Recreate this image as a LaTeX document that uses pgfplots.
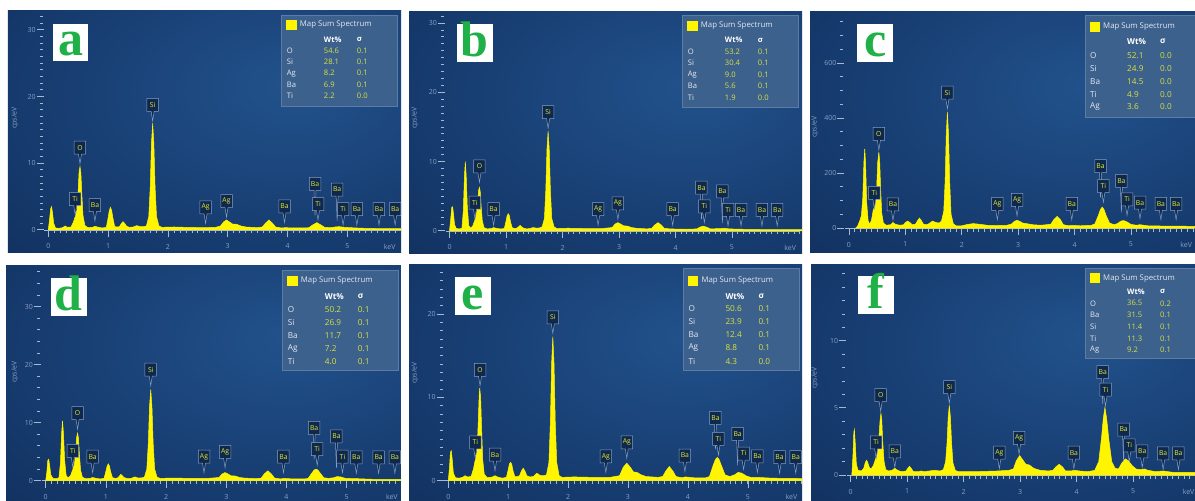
\documentclass[border=0pt]{standalone}
\usepackage{pgfplots}
\pgfplotsset{compat=1.18}
\usepackage{fontspec}
\setmainfont{Open Sans}
\newfontfamily\letterfont{Liberation Serif}
\usetikzlibrary{shapes.callouts}

\definecolor{bgin}{RGB}{34,82,140}
\definecolor{bgmid}{RGB}{23,61,113}
\definecolor{bgout}{RGB}{13,39,80}
\definecolor{specyellow}{RGB}{255,245,0}
\definecolor{axc}{RGB}{165,185,212}
\definecolor{tickc}{RGB}{135,160,196}
\definecolor{labbg}{RGB}{14,40,78}
\definecolor{labbd}{RGB}{135,160,195}
\definecolor{labtx}{RGB}{230,236,50}
\definecolor{legbg}{RGB}{61,97,141}
\definecolor{legbd}{RGB}{92,124,166}
\definecolor{legname}{RGB}{226,233,243}
\definecolor{legval}{RGB}{216,226,62}
\definecolor{lettergreen}{RGB}{32,176,72}

\pgfdeclareradialshading{panelbg}{\pgfpoint{12bp}{10bp}}{color(0bp)=(bgin); color(28bp)=(bgmid); color(62bp)=(bgout); color(100bp)=(bgout)}

\tikzset{
  tickl/.style={text=tickc, font=\fontsize{7}{8}\selectfont, inner sep=0pt},
  peak/.style={rectangle callout, anchor=pointer, fill=labbg, draw=labbd, line width=0.5pt,
    font=\color{labtx}\fontsize{6.8}{7}\selectfont, inner xsep=1.6pt, inner ysep=0pt,
    minimum height=13pt, minimum width=11.5pt},
}
\pgfplotsset{
  eds/.style={scale only axis, anchor=south west, axis line style={draw=none},
    xtick=\empty, ytick=\empty, clip=true,
    axis background/.style={shade, shading=panelbg}},
  spec/.style={fill=specyellow, draw=specyellow, line width=0.5pt},
  shortlab/.style={only marks, mark=none, point meta=explicit symbolic, nodes near coords,
    nodes near coords style={peak, callout pointer width=3pt, callout relative pointer={(0pt,-9.5pt)}}},
  longlab/.style={only marks, mark=none, point meta=explicit symbolic, nodes near coords,
    nodes near coords style={peak, callout pointer width=2pt, callout relative pointer={(0pt,-25pt)}}},
}

% x axis: line at 0, minor ticks every 0.1 keV, labels 0..5, "keV" at #1
\newcommand{\xdecor}[2]{%
  \draw[axc, line width=0.7pt] ([xshift=-4pt]axis cs:0,0) -- (axis cs:#2,0);
  \pgfplotsinvokeforeach{0.1,0.2,...,#2}{\draw[axc, line width=0.6pt] (axis cs:##1,0) -- ++(0pt,-3.5pt);}
  \pgfplotsinvokeforeach{0,...,5}{\draw[axc, line width=0.6pt] (axis cs:##1,0) -- ++(0pt,-7pt);
    \node[tickl] at ([yshift=-16.5pt]axis cs:##1,0) {##1};}
  \node[tickl] at ([yshift=-16.5pt]axis cs:#1,0) {keV};
}
% y axis: column of dashes left of x=0
\newcommand{\ydecor}[2]{%
  \pgfplotsinvokeforeach{#1}{\draw[axc, line width=1pt] ([xshift=-8.5pt]axis cs:0,##1) -- ([xshift=-5.5pt]axis cs:0,##1);}
  \pgfplotsinvokeforeach{#2}{\draw[axc, line width=1pt] ([xshift=-11.5pt]axis cs:0,##1) -- ([xshift=-4.5pt]axis cs:0,##1);
    \node[tickl, anchor=east] at ([xshift=-12.5pt]axis cs:0,##1) {##1};}
}
% result box: left, top, height, map dy, header dy, first row dy, row pitch, rows, font size
\newcommand{\legendbox}[9]{%
  \begin{scope}[shift={(#1pt,{501pt-#2pt})}]
    \fill[legbg] (0pt,0pt) rectangle (116pt,-#3pt);
    \draw[legbd, line width=0.5pt] (0pt,0pt) rectangle (116pt,-#3pt);
    \fill[specyellow] (4.5pt,{-#4pt+5pt}) rectangle (15pt,{-#4pt-5pt});
    \node[anchor=west, inner sep=0pt, text=legname, font=\fontsize{7.8}{9}\selectfont] at (18pt,-#4pt) {Map Sum Spectrum};
    \node[anchor=west, inner sep=0pt, text=white, font=\fontsize{#9}{9}\selectfont\bfseries] at (42pt,-#5pt) {Wt\%};
    \node[anchor=west, inner sep=0pt, text=white, font=\fontsize{#9}{9}\selectfont\bfseries] at (75pt,-#5pt) {σ};
    \foreach \el/\wt/\sg [count=\i from 0] in {#8} {
      \node[anchor=west, inner sep=0pt, text=legname, font=\fontsize{#9}{9}\selectfont] at (5pt,{-#6pt-\i*#7pt}) {\el};
      \node[anchor=west, inner sep=0pt, text=legval, font=\fontsize{#9}{9}\selectfont] at (42pt,{-#6pt-\i*#7pt}) {\wt};
      \node[anchor=west, inner sep=0pt, text=legval, font=\fontsize{#9}{9}\selectfont] at (75pt,{-#6pt-\i*#7pt}) {\sg};
    }
  \end{scope}}
% panel letter: left, top, right, bottom, letter
\newcommand{\letterbox}[5]{%
  \fill[white] (#1pt,{501pt-#4pt}) rectangle (#3pt,{501pt-#2pt});
  \node[anchor=base, inner sep=0pt, text=lettergreen, font=\letterfont\bfseries\fontsize{50}{50}\selectfont]
    at ({(#1pt+#3pt)/2},{501pt-#4pt+5pt}) {#5};}

\begin{document}
\begin{tikzpicture}
\useasboundingbox (0,0) rectangle (1195pt,501pt);
\clip (0,0) rectangle (1195pt,501pt);
\fill[white] (0,0) rectangle (1195pt,501pt);

% ---------- (a)
\begin{axis}[eds, at={(8pt,248pt)}, width=393pt, height=242pt,
  xmin=-0.674, xmax=5.898, ymin=-3.45, ymax=32.83]
\xdecor{5.71}{5.9}
\ydecor{0,1,...,32}{0,10,20,30}
\addplot[spec] coordinates {(0,0)(0.02,1.5)(0.04,3.2)(0.055,3.5)(0.07,2.6)(0.09,1.0)(0.12,0.3)(0.18,0.25)(0.24,0.35)(0.28,0.6)(0.32,0.4)(0.38,0.45)(0.42,1.2)(0.45,2.0)(0.48,3.0)(0.50,6.0)(0.515,8.8)(0.53,9.5)(0.545,8.5)(0.56,5.5)(0.58,2.2)(0.61,0.7)(0.66,0.35)(0.74,0.4)(0.78,0.55)(0.82,0.45)(0.9,0.3)(0.97,0.4)(1.0,1.8)(1.02,2.9)(1.04,3.4)(1.06,2.9)(1.08,1.8)(1.11,0.5)(1.16,0.45)(1.19,0.5)(1.22,0.95)(1.25,1.25)(1.28,0.95)(1.31,0.55)(1.36,0.4)(1.42,0.45)(1.48,0.65)(1.54,0.5)(1.6,0.5)(1.64,0.6)(1.68,2.0)(1.705,6.5)(1.725,13.0)(1.745,16.0)(1.765,13.0)(1.785,6.5)(1.81,2.0)(1.85,0.6)(1.9,0.4)(2.1,0.45)(2.3,0.4)(2.6,0.35)(2.8,0.4)(2.88,0.6)(2.93,1.2)(2.98,1.5)(3.03,1.2)(3.08,0.9)(3.15,0.85)(3.22,0.6)(3.3,0.45)(3.5,0.35)(3.58,0.45)(3.63,1.0)(3.69,1.5)(3.75,1.0)(3.8,0.45)(3.9,0.3)(3.96,0.35)(4.1,0.3)(4.3,0.3)(4.36,0.35)(4.42,0.75)(4.49,1.1)(4.56,0.75)(4.62,0.4)(4.72,0.35)(4.8,0.45)(4.86,0.5)(4.95,0.4)(5.05,0.35)(5.16,0.3)(5.3,0.25)(5.6,0.2)(5.95,0.2)(5.95,0)} \closedcycle;
\addplot[longlab] table[meta=lab] {
x y lab
4.46 1.25 Ba
4.83 0.4 Ba
};
\addplot[shortlab] table[meta=lab] {
x y lab
0.45 2.0 Ti
0.53 9.7 O
0.78 1.1 Ba
1.745 16.1 Si
2.63 0.75 Ag
2.98 1.7 Ag
3.95 0.9 Ba
4.51 1.25 Ti
4.93 0.5 Ti
5.16 0.5 Ba
5.53 0.5 Ba
5.80 0.5 Ba
};
\end{axis}

% ---------- (b)
\begin{axis}[eds, at={(409pt,247pt)}, width=393pt, height=242pt,
  xmin=-0.717, xmax=6.239, ymin=-3.32, ymax=31.6]
\xdecor{6.03}{6.2}
\ydecor{0,1,...,31}{0,10,20,30}
\addplot[spec] coordinates {(0,0)(0.02,1.6)(0.04,3.4)(0.055,3.5)(0.07,2.5)(0.09,0.9)(0.12,0.35)(0.18,0.3)(0.22,0.4)(0.245,3.0)(0.265,8.0)(0.28,10.0)(0.295,8.0)(0.315,3.5)(0.34,0.8)(0.37,0.4)(0.41,0.7)(0.45,1.6)(0.48,2.6)(0.50,4.3)(0.515,5.9)(0.53,6.3)(0.545,5.6)(0.56,3.6)(0.58,1.5)(0.61,0.5)(0.66,0.3)(0.74,0.35)(0.78,0.5)(0.82,0.4)(0.9,0.3)(0.97,0.35)(1.0,1.4)(1.02,2.2)(1.04,2.5)(1.06,2.2)(1.08,1.3)(1.11,0.45)(1.16,0.35)(1.2,0.45)(1.25,0.8)(1.3,0.45)(1.36,0.3)(1.42,0.35)(1.48,0.5)(1.54,0.4)(1.6,0.45)(1.64,0.6)(1.68,1.8)(1.705,6.0)(1.725,11.8)(1.745,14.4)(1.765,11.8)(1.785,6.0)(1.81,1.8)(1.85,0.6)(1.9,0.35)(2.1,0.4)(2.4,0.35)(2.7,0.35)(2.88,0.5)(2.93,1.0)(2.98,1.2)(3.03,1.0)(3.08,0.75)(3.15,0.7)(3.22,0.5)(3.3,0.4)(3.5,0.3)(3.58,0.4)(3.63,0.85)(3.69,1.2)(3.75,0.85)(3.8,0.4)(3.9,0.3)(4.2,0.25)(4.38,0.3)(4.43,0.55)(4.49,0.7)(4.55,0.55)(4.62,0.3)(4.8,0.35)(4.86,0.4)(4.95,0.3)(5.2,0.25)(5.6,0.2)(6.3,0.2)(6.3,0)} \closedcycle;
\addplot[longlab] table[meta=lab] {
x y lab
4.46 0.8 Ba
4.83 0.25 Ba
};
\addplot[shortlab] table[meta=lab] {
x y lab
0.45 1.55 Ti
0.53 6.8 O
0.78 0.6 Ba
1.745 14.6 Si
2.63 0.6 Ag
2.98 1.45 Ag
3.95 0.6 Ba
4.51 1.0 Ti
4.93 0.5 Ti
5.16 0.5 Ba
5.53 0.5 Ba
5.80 0.5 Ba
};
\end{axis}

% ---------- (c)
\begin{axis}[eds, at={(810pt,248pt)}, width=385pt, height=241pt,
  xmin=-0.691, xmax=6.135, ymin=-90.9, ymax=785.5]
\xdecor{5.98}{6.1}
\ydecor{0,50,...,750}{0,200,400,600}
\addplot[spec] coordinates {(0.12,0)(0.15,6)(0.19,25)(0.22,45)(0.245,110)(0.265,240)(0.28,288)(0.295,230)(0.315,90)(0.34,25)(0.37,14)(0.40,30)(0.43,65)(0.46,80)(0.49,140)(0.51,240)(0.53,276)(0.545,240)(0.56,150)(0.58,55)(0.61,18)(0.66,10)(0.74,12)(0.78,20)(0.82,14)(0.9,10)(0.97,12)(1.0,20)(1.04,25)(1.08,20)(1.12,12)(1.18,14)(1.22,28)(1.25,36)(1.28,28)(1.32,14)(1.38,12)(1.42,16)(1.48,25)(1.54,20)(1.6,18)(1.64,25)(1.68,60)(1.705,170)(1.725,340)(1.745,422)(1.765,340)(1.785,170)(1.81,50)(1.85,15)(1.9,8)(2.0,8)(2.1,13)(2.2,16)(2.3,14)(2.45,10)(2.6,9)(2.8,10)(2.88,14)(2.93,24)(2.98,28)(3.03,24)(3.08,18)(3.15,16)(3.25,12)(3.4,10)(3.5,12)(3.58,14)(3.63,30)(3.69,42)(3.75,30)(3.8,12)(3.9,8)(3.96,10)(4.1,8)(4.3,10)(4.36,15)(4.42,45)(4.46,68)(4.49,76)(4.52,68)(4.56,45)(4.62,18)(4.7,12)(4.76,16)(4.82,25)(4.87,27)(4.93,22)(5.0,13)(5.1,10)(5.16,12)(5.3,8)(5.6,7)(6.2,6)(6.2,0)} \closedcycle;
\addplot[longlab] table[meta=lab] {
x y lab
4.46 88 Ba
4.83 34 Ba
};
\addplot[shortlab] table[meta=lab] {
x y lab
0.45 64 Ti
0.53 278 O
0.78 22 Ba
1.745 428 Si
2.63 24 Ag
2.98 38 Ag
3.95 24 Ba
4.51 88 Ti
4.93 40 Ti
5.16 28 Ba
5.53 24 Ba
5.80 24 Ba
};
\end{axis}

% ---------- (d)
\begin{axis}[eds, at={(6pt,0pt)}, width=395pt, height=235pt,
  xmin=-0.659, xmax=5.902, ymin=-3.5, ymax=37.0]
\xdecor{5.75}{5.9}
\ydecor{0,2,...,36}{0,10,20,30}
\addplot[spec] coordinates {(0,0)(0.02,1.5)(0.035,3.5)(0.05,3.7)(0.065,2.7)(0.085,1.0)(0.12,0.4)(0.18,0.35)(0.22,0.5)(0.245,3.0)(0.265,8.2)(0.28,10.3)(0.295,8.2)(0.315,3.5)(0.34,0.9)(0.37,0.5)(0.41,0.8)(0.45,1.9)(0.48,3.0)(0.50,5.2)(0.515,7.5)(0.53,8.2)(0.545,7.3)(0.56,4.6)(0.58,1.8)(0.61,0.6)(0.66,0.35)(0.74,0.4)(0.78,0.55)(0.82,0.45)(0.9,0.3)(0.97,0.4)(1.0,1.6)(1.02,2.5)(1.04,2.9)(1.06,2.5)(1.08,1.5)(1.11,0.5)(1.16,0.4)(1.2,0.5)(1.25,1.1)(1.3,0.55)(1.36,0.35)(1.42,0.4)(1.48,0.65)(1.54,0.45)(1.6,0.5)(1.64,0.6)(1.68,2.0)(1.705,6.5)(1.725,12.8)(1.745,15.7)(1.765,12.8)(1.785,6.5)(1.81,2.0)(1.85,0.6)(1.9,0.4)(2.1,0.45)(2.4,0.4)(2.7,0.4)(2.88,0.55)(2.93,1.15)(2.98,1.4)(3.03,1.15)(3.08,0.85)(3.15,0.8)(3.22,0.55)(3.3,0.45)(3.5,0.35)(3.58,0.45)(3.63,1.15)(3.69,1.7)(3.75,1.15)(3.8,0.45)(3.9,0.3)(3.96,0.4)(4.1,0.3)(4.3,0.3)(4.36,0.4)(4.42,1.3)(4.46,1.85)(4.49,2.0)(4.52,1.85)(4.56,1.3)(4.62,0.5)(4.7,0.4)(4.78,0.5)(4.84,0.7)(4.9,0.65)(4.98,0.4)(5.16,0.35)(5.4,0.25)(5.95,0.2)(5.95,0)} \closedcycle;
\addplot[longlab] table[meta=lab] {
x y lab
4.46 2.6 Ba
4.83 1.15 Ba
};
\addplot[shortlab] table[meta=lab] {
x y lab
0.45 2.1 Ti
0.53 8.6 O
0.78 1.1 Ba
1.745 16.1 Si
2.63 1.1 Ag
2.98 1.95 Ag
3.95 1.1 Ba
4.51 2.4 Ti
4.93 1.1 Ti
5.16 1.0 Ba
5.53 1.0 Ba
5.80 1.0 Ba
};
\end{axis}

% ---------- (e)
\begin{axis}[eds, at={(409pt,0pt)}, width=393pt, height=236pt,
  xmin=-0.656, xmax=5.905, ymin=-2.44, ymax=25.9]
\xdecor{5.73}{5.9}
\ydecor{0,1,...,25}{0,10,20}
\addplot[spec] coordinates {(0,0)(0.02,1.6)(0.035,3.4)(0.05,3.6)(0.065,2.6)(0.085,0.9)(0.12,0.35)(0.18,0.3)(0.24,0.4)(0.28,0.6)(0.32,0.45)(0.38,0.5)(0.42,1.4)(0.45,2.5)(0.48,3.5)(0.50,7.0)(0.515,10.2)(0.525,11.1)(0.54,10.0)(0.555,6.5)(0.575,2.5)(0.60,0.8)(0.65,0.35)(0.74,0.45)(0.78,0.6)(0.82,0.45)(0.9,0.3)(0.97,0.4)(1.0,1.3)(1.02,2.0)(1.04,2.2)(1.06,1.95)(1.08,1.2)(1.11,0.5)(1.16,0.5)(1.19,0.6)(1.22,1.15)(1.25,1.5)(1.28,1.15)(1.31,0.6)(1.36,0.45)(1.42,0.5)(1.48,0.9)(1.54,0.6)(1.6,0.6)(1.64,0.7)(1.68,2.2)(1.705,7.2)(1.725,14.1)(1.745,17.3)(1.765,14.1)(1.785,7.2)(1.81,2.2)(1.85,0.6)(1.9,0.4)(2.1,0.45)(2.4,0.4)(2.7,0.4)(2.86,0.6)(2.92,1.6)(2.98,2.1)(3.04,1.6)(3.09,1.05)(3.15,1.0)(3.22,0.7)(3.3,0.5)(3.5,0.4)(3.58,0.5)(3.63,1.15)(3.69,1.7)(3.75,1.15)(3.8,0.5)(3.9,0.35)(3.96,0.45)(4.1,0.35)(4.3,0.35)(4.36,0.5)(4.42,1.8)(4.46,2.55)(4.49,2.8)(4.52,2.55)(4.56,1.8)(4.62,0.7)(4.7,0.5)(4.78,0.7)(4.84,1.0)(4.9,0.9)(4.98,0.55)(5.05,0.4)(5.16,0.4)(5.4,0.3)(5.95,0.25)(5.95,0)} \closedcycle;
\addplot[longlab] table[meta=lab] {
x y lab
4.46 3.0 Ba
4.83 1.1 Ba
};
\addplot[shortlab] table[meta=lab] {
x y lab
0.45 2.5 Ti
0.53 11.2 O
0.78 1.0 Ba
1.745 17.5 Si
2.63 0.8 Ag
2.98 2.5 Ag
3.95 0.9 Ba
4.51 2.9 Ti
4.93 1.15 Ti
5.16 0.8 Ba
5.53 0.7 Ba
5.80 0.7 Ba
};
\end{axis}

% ---------- (f)
\begin{axis}[eds, at={(811pt,0pt)}, width=384pt, height=236pt,
  xmin=-0.703, xmax=6.094, ymin=-1.94, ymax=15.67]
\xdecor{5.98}{6.1}
\ydecor{0,1,...,15}{0,5,10}
\addplot[spec] coordinates {(0.02,0)(0.04,1.5)(0.055,3.2)(0.065,3.4)(0.08,2.4)(0.1,0.8)(0.13,0.35)(0.19,0.3)(0.23,0.5)(0.26,0.95)(0.28,1.1)(0.30,0.95)(0.33,0.55)(0.36,0.45)(0.40,0.7)(0.44,1.2)(0.47,1.6)(0.50,2.8)(0.52,4.1)(0.535,4.6)(0.55,4.1)(0.565,2.6)(0.59,1.0)(0.62,0.4)(0.67,0.3)(0.73,0.35)(0.78,0.5)(0.83,0.35)(0.9,0.25)(0.98,0.3)(1.01,0.5)(1.04,0.65)(1.07,0.5)(1.11,0.25)(1.2,0.25)(1.25,0.3)(1.3,0.25)(1.48,0.35)(1.58,0.3)(1.64,0.4)(1.68,1.0)(1.705,2.4)(1.725,4.3)(1.745,5.2)(1.765,4.3)(1.785,2.4)(1.81,0.9)(1.85,0.35)(1.9,0.25)(2.2,0.25)(2.6,0.3)(2.8,0.35)(2.88,0.45)(2.93,1.05)(2.99,1.45)(3.05,1.1)(3.1,0.8)(3.16,0.75)(3.24,0.5)(3.35,0.35)(3.5,0.3)(3.58,0.35)(3.63,0.6)(3.69,0.8)(3.75,0.6)(3.8,0.3)(3.9,0.3)(3.96,0.35)(4.05,0.3)(4.2,0.25)(4.32,0.35)(4.39,1.0)(4.44,2.8)(4.47,4.2)(4.5,5.05)(4.53,4.2)(4.57,2.6)(4.62,1.0)(4.68,0.5)(4.74,0.45)(4.8,0.9)(4.86,1.2)(4.92,1.05)(4.98,0.7)(5.05,0.45)(5.12,0.4)(5.2,0.45)(5.26,0.35)(5.4,0.25)(5.53,0.3)(5.7,0.2)(6.1,0.2)(6.1,0)} \closedcycle;
\addplot[longlab] table[meta=lab] {
x y lab
4.46 4.85 Ba
4.83 0.57 Ba
};
\addplot[shortlab] table[meta=lab] {
x y lab
0.45 1.12 Ti
0.53 4.65 O
0.78 0.45 Ba
1.745 5.25 Si
2.63 0.35 Ag
2.98 1.45 Ag
3.95 0.35 Ba
4.51 5.05 Ti
4.93 0.9 Ti
5.16 0.45 Ba
5.53 0.3 Ba
5.80 0.3 Ba
};
\end{axis}

% axis titles
\node[tickl, rotate=90] at (15pt,383pt) {cps/eV};
\node[tickl, rotate=90] at (415pt,383pt) {cps/eV};
\node[tickl, rotate=90] at (815pt,374pt) {cps/eV};
\node[tickl, rotate=90] at (15pt,129pt) {cps/eV};
\node[tickl, rotate=90] at (415pt,128pt) {cps/eV};
\node[tickl, rotate=90] at (815pt,123pt) {cps/eV};

% result boxes
\legendbox{281.7}{15}{91}{10}{24.3}{35.7}{11.3}{O/54.6/0.1, Si/28.1/0.1, Ag/8.2/0.1, Ba/6.9/0.1, Ti/2.2/0.0}{7.6}
\legendbox{682.7}{15}{92}{10.7}{25}{36.7}{11.5}{O/53.2/0.1, Si/30.4/0.1, Ag/9.0/0.1, Ba/5.6/0.1, Ti/1.9/0.0}{7.6}
\legendbox{1085}{15}{102}{11.7}{26.7}{41}{12.7}{O/52.1/0.0, Si/24.9/0.0, Ba/14.5/0.0, Ti/4.9/0.0, Ag/3.6/0.0}{8.2}
\legendbox{282.7}{270}{100}{11}{26.7}{39.3}{13.1}{O/50.2/0.1, Si/26.9/0.1, Ba/11.7/0.1, Ag/7.2/0.1, Ti/4.0/0.1}{8.2}
\legendbox{683.3}{268.3}{101.7}{12.4}{28.4}{40}{13.2}{O/50.6/0.1, Si/23.9/0.1, Ba/12.4/0.1, Ag/8.8/0.1, Ti/4.3/0.0}{8.2}
\legendbox{1085}{268.3}{90}{10}{23.4}{35}{11.7}{O/36.5/0.2, Ba/31.5/0.1, Si/11.4/0.1, Ti/11.3/0.1, Ag/9.2/0.1}{7.6}

% panel letters
\letterbox{53}{24}{88}{61}{a}
\letterbox{456.7}{24}{492.7}{61.7}{b}
\letterbox{857.3}{24}{893.3}{61.7}{c}
\letterbox{51}{278.3}{86.7}{316}{d}
\letterbox{455}{276.7}{490.7}{315}{e}
\letterbox{858.3}{275.7}{894}{314}{f}
\end{tikzpicture}
\end{document}
